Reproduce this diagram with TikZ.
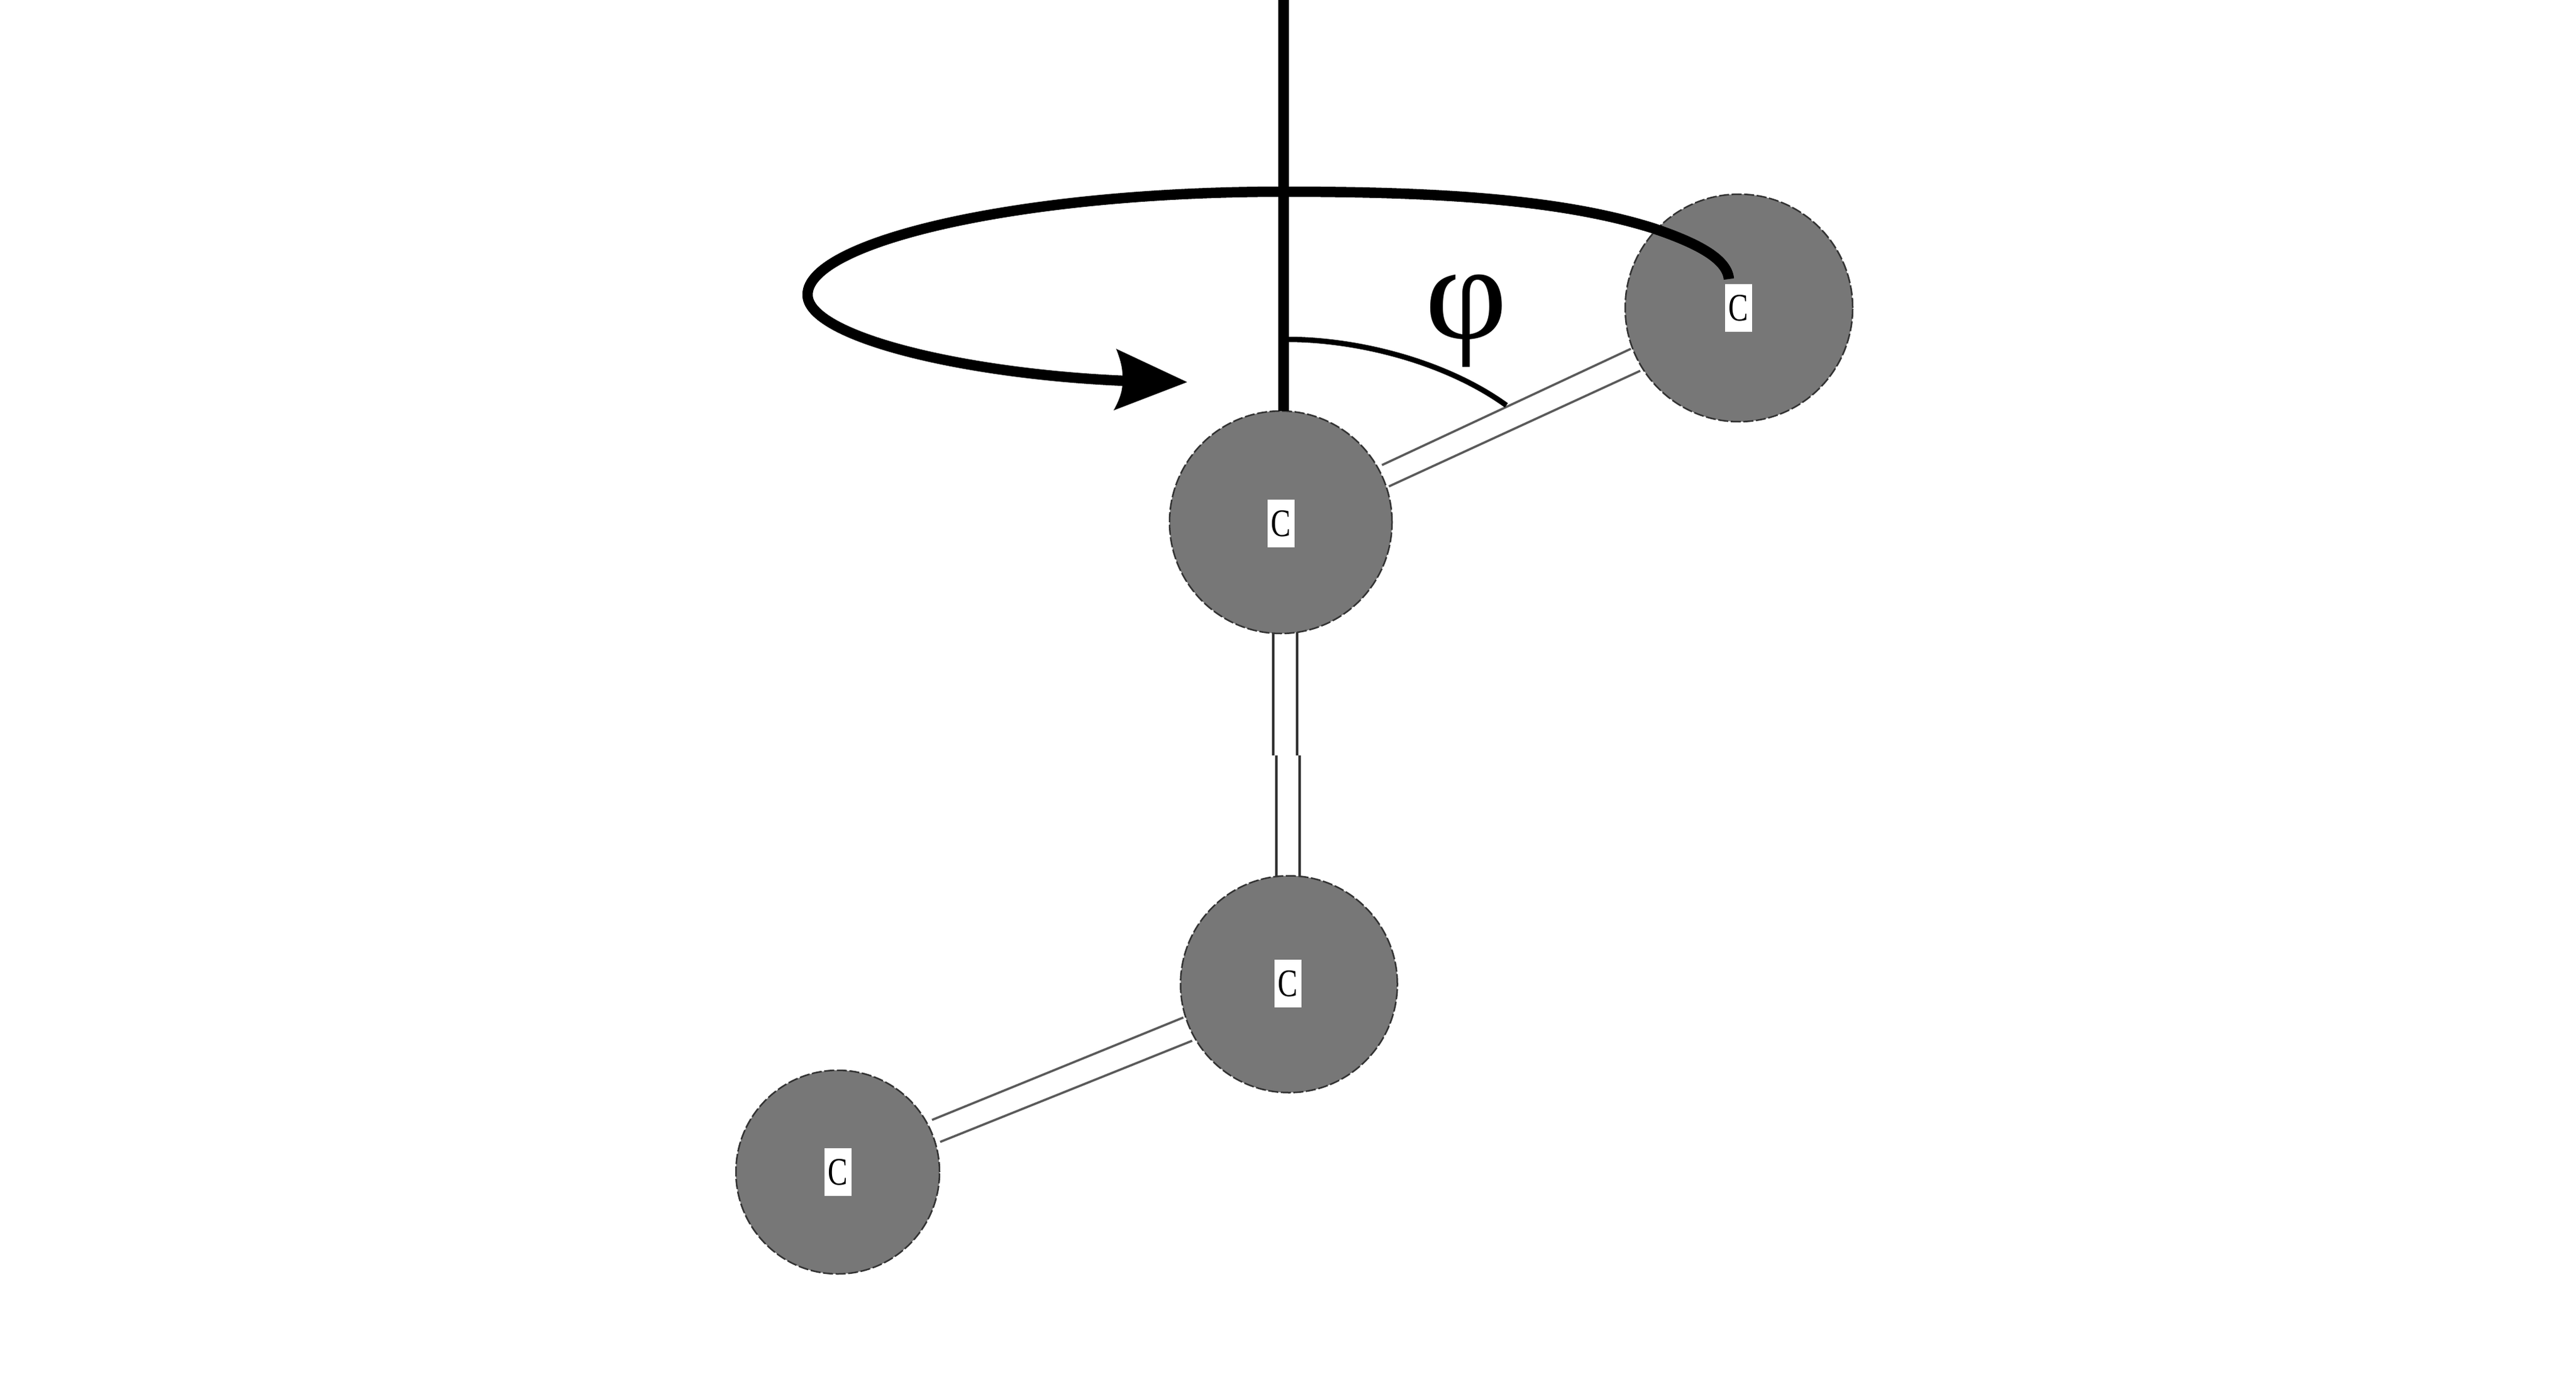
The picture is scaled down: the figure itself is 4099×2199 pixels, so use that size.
\documentclass[tikz,border=0pt]{standalone}
\usepackage{fontspec}
\setmainfont{Liberation Serif}
\definecolor{atomgray}{HTML}{777777}
\definecolor{bondgray}{HTML}{333333}
\definecolor{bondlight}{HTML}{5A5A5A}
\tikzset{
  atom/.style={circle,inner sep=0pt,outer sep=0pt,fill=atomgray,draw=black!80,line width=2.5pt,dash pattern=on 16pt off 4pt},
  atomlabel/.style={rectangle,fill=white,inner sep=0pt,outer sep=0pt,minimum width=43pt,minimum height=76pt},
  bondline/.style={draw=bondgray,line width=4.5pt},
  bonddiag/.style={draw=bondlight,line width=3.5pt},
  heavy/.style={draw=black,line width=17pt},
  loopline/.style={draw=black,line width=16.5pt},
}
\begin{document}
\begin{tikzpicture}[x=1pt,y=-1pt]
\useasboundingbox (0,0) rectangle (4099,2199);
% bond end points
\coordinate (b1a) at (2199,740); \coordinate (b1b) at (2595,555);
\coordinate (b1c) at (2210,774); \coordinate (b1d) at (2610,590);
\coordinate (b2a) at (2026,1000); \coordinate (b2b) at (2026,1202);
\coordinate (b2c) at (2064,1000); \coordinate (b2d) at (2064,1202);
\coordinate (b2e) at (2031,1202); \coordinate (b2f) at (2031,1396);
\coordinate (b2g) at (2068,1202); \coordinate (b2h) at (2068,1396);
\coordinate (b3a) at (1483,1782); \coordinate (b3b) at (1883,1619);
\coordinate (b3c) at (1496,1817); \coordinate (b3d) at (1897,1656);
\draw[bonddiag] (b1a) -- (b1b);
\draw[bonddiag] (b1c) -- (b1d);
\draw[bondline] (b2a) -- (b2b);
\draw[bondline] (b2c) -- (b2d);
\draw[bondline] (b2e) -- (b2f);
\draw[bondline] (b2g) -- (b2h);
\draw[bonddiag] (b3a) -- (b3b);
\draw[bonddiag] (b3c) -- (b3d);
% atoms
\node[atom,minimum size=362pt] (a1) at (2767,490) {};
\node[atom,minimum size=354pt] (a2) at (2038,831) {};
\node[atom,minimum size=345pt] (a3) at (2051,1566) {};
\node[atom,minimum size=324pt] (a4) at (1333,1865) {};
\node[atomlabel] (l1) at (2766,490) {};
\node[atomlabel] (l2) at (2038,833) {};
\node[atomlabel] (l3) at (2049,1565) {};
\node[atomlabel] (l4) at (1333,1865) {};
\foreach \n in {1,2,3,4}
  \node[inner sep=0pt,xscale=.76,font=\fontsize{62}{62}\selectfont] (c\n) at (l\n) {C};
% axis
\coordinate (axistop) at (2042,0);
\coordinate (axisbot) at (2042,654);
\draw[heavy] (axistop) -- (axisbot);
% rotation arrow
\coordinate (loopstart) at (2751,444);
\coordinate (loopmid) at (2630,363);
\coordinate (looptop) at (2042,305);
\coordinate (loopleft) at (1285,469);
\coordinate (loopend) at (1790,606);
\draw[loopline] (loopstart) .. controls (2748,410) and (2695,385) .. (loopmid)
  .. controls (2480,316) and (2280,305) .. (looptop)
  .. controls (1620,305) and (1285,385) .. (loopleft)
  .. controls (1285,535) and (1530,595) .. (loopend);
\coordinate (tip) at (1889,608);
\fill[black] (tip) -- (1776,555) .. controls (1784,575) and (1787,590) .. (1786,604)
  .. controls (1787,620) and (1782,635) .. (1772,653) -- cycle;
% angle
\coordinate (arcstart) at (2048,540);
\coordinate (arcend) at (2397,645);
\draw[black,line width=8.5pt] (arcstart) .. controls (2160,540) and (2300,575) .. (arcend);
\node[inner sep=0pt,xscale=1.06,font=\fontsize{215}{215}\selectfont] (phi) at (2333,511) {φ};
\end{tikzpicture}
\end{document}
